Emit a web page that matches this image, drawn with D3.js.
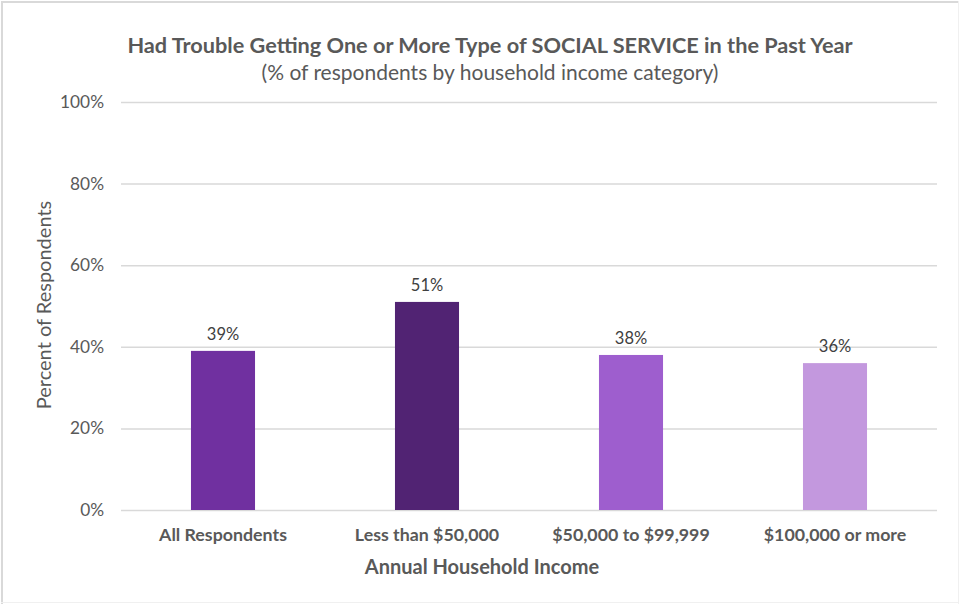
<!DOCTYPE html>
<html>
<head>
<meta charset="utf-8">
<script src="https://cdn.jsdelivr.net/npm/d3@7"></script>
<style>
  html, body { margin: 0; padding: 0; background: #fff; }
  svg { display: block; font-family: Lato, "Open Sans", sans-serif; }
</style>
</head>
<body>
<svg id="chart" width="959" height="604"></svg>
<script>
// Survey results: share of respondents with trouble getting a social service
const categories = ["All Respondents", "Less than $50,000", "$50,000 to $99,999", "$100,000 or more"];
const values = [39, 51, 38, 36];
const barColors = ["#7030A0", "#512373", "#9E5ECE", "#C398DE"];
const yTicks = [0, 20, 40, 60, 80, 100];

const svg = d3.select("#chart");
const W = 959, H = 604;
const margin = { top: 102, right: 22, bottom: 94, left: 121 };

// frame around the chart area
svg.append("line").attr("x1", 1).attr("x2", W).attr("y1", 2).attr("y2", 2)
  .attr("stroke", "#d9d9d9").attr("stroke-width", 2);
svg.append("line").attr("x1", 2).attr("x2", 2).attr("y1", 1).attr("y2", H)
  .attr("stroke", "#d9d9d9").attr("stroke-width", 2);
svg.append("line").attr("x1", W - 0.5).attr("x2", W - 0.5).attr("y1", 1).attr("y2", H)
  .attr("stroke", "#f0f0f0").attr("stroke-width", 1);
svg.append("line").attr("x1", 1).attr("x2", W).attr("y1", H - 1.5).attr("y2", H - 1.5)
  .attr("stroke", "#f0f0f0").attr("stroke-width", 1);

const x = d3.scaleBand()
  .domain(categories)
  .range([margin.left, W - margin.right])
  .paddingInner(0.686)
  .paddingOuter(0.343);

const y = d3.scaleLinear()
  .domain([0, 100])
  .range([H - margin.bottom, margin.top]);

// horizontal gridlines and percent ticks
const yAxis = d3.axisLeft(y)
  .tickValues(yTicks)
  .tickFormat(d => d + "%")
  .tickSize(-(W - margin.right - margin.left))
  .tickPadding(17);

const gy = svg.append("g")
  .attr("transform", `translate(${margin.left},0)`)
  .call(yAxis);
gy.select(".domain").remove();
gy.selectAll(".tick line").attr("stroke", "#d9d9d9").attr("stroke-width", 1.5);
gy.selectAll(".tick text")
  .attr("fill", "#595959")
  .style("font-size", "17.3px")
  .style("font-family", "Lato, sans-serif");

// bars
svg.append("g").selectAll("rect")
  .data(values)
  .join("rect")
  .attr("x", (d, i) => x(categories[i]))
  .attr("width", x.bandwidth())
  .attr("y", d => y(d))
  .attr("height", d => y(0) - y(d))
  .attr("fill", (d, i) => barColors[i]);

// value labels
svg.append("g").selectAll("text")
  .data(values)
  .join("text")
  .attr("x", (d, i) => x(categories[i]) + x.bandwidth() / 2)
  .attr("y", d => y(d) - 11)
  .attr("text-anchor", "middle")
  .attr("fill", "#404040")
  .style("font-size", "16.5px")
  .text(d => d + "%");

// category labels
const xAxis = d3.axisBottom(x).tickSize(0).tickPadding(18);
const gx = svg.append("g")
  .attr("transform", `translate(0,${y(0)})`)
  .call(xAxis);
gx.select(".domain").remove();
gx.selectAll(".tick text")
  .attr("fill", "#595959")
  .style("font-size", "17.8px")
  .style("font-weight", "bold")
  .style("font-family", "Lato, sans-serif");

// titles
svg.append("text")
  .attr("x", 490).attr("y", 53)
  .attr("text-anchor", "middle")
  .attr("fill", "#595959")
  .style("font-size", "21.7px")
  .style("font-weight", "bold")
  .text("Had Trouble Getting One or More Type of SOCIAL SERVICE in the Past Year");

svg.append("text")
  .attr("x", 490).attr("y", 80)
  .attr("text-anchor", "middle")
  .attr("fill", "#595959")
  .style("font-size", "21px")
  .text("(% of respondents by household income category)");

svg.append("text")
  .attr("x", 482).attr("y", 574)
  .attr("text-anchor", "middle")
  .attr("fill", "#595959")
  .style("font-size", "20px")
  .style("font-weight", "bold")
  .text("Annual Household Income");

svg.append("text")
  .attr("transform", "translate(51,305) rotate(-90)")
  .attr("text-anchor", "middle")
  .attr("fill", "#595959")
  .style("font-size", "20px")
  .text("Percent of Respondents");
</script>
</body>
</html>
